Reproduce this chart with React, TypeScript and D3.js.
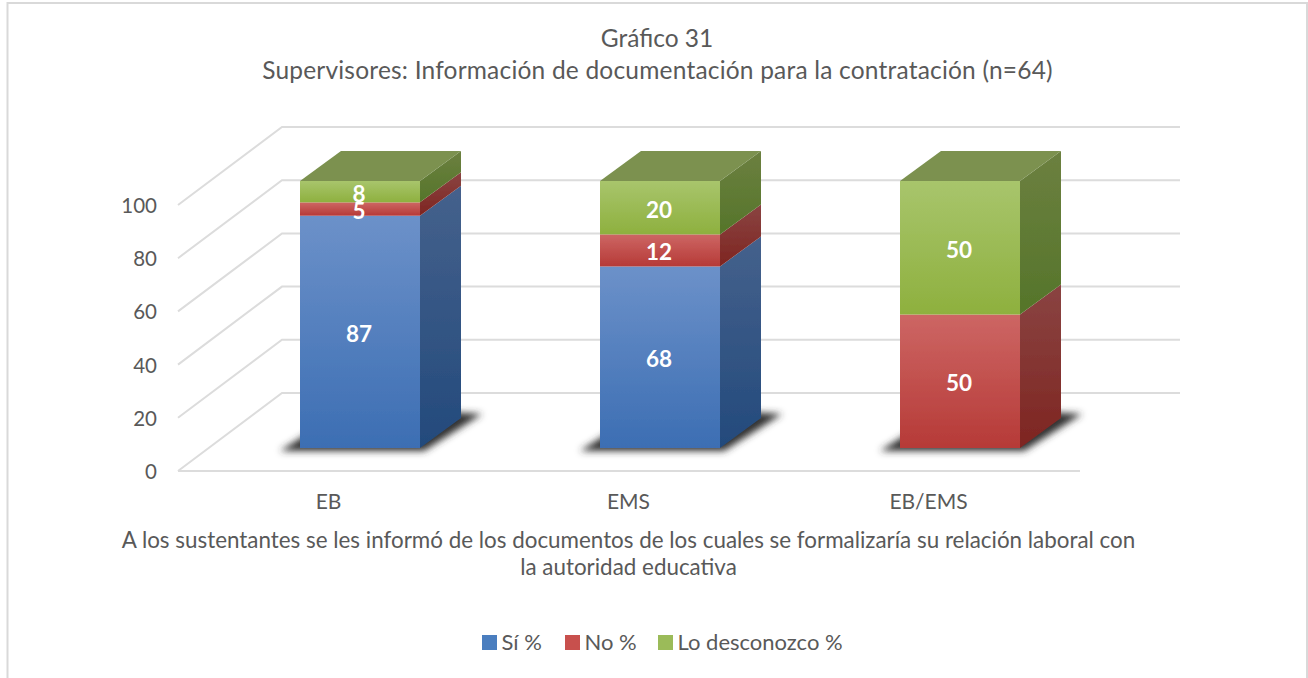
import React from "react";
import * as d3 from "d3";

const categories = ["EB", "EMS", "EB/EMS"];
const siValues = [87, 68, 0];
const noValues = [5, 12, 50];
const loValues = [8, 20, 50];
const seriesNames = ["Sí %", "No %", "Lo desconozco %"];
const seriesKeys = ["si", "no", "lo"];
const tickValues = [0, 20, 40, 60, 80, 100];
const titleLines = ["Gráfico 31", "Supervisores: Información de documentación para la contratación (n=64)"];
const noteLines = [
  "A los sustentantes se les informó de los documentos de los cuales se formalizaría su relación laboral con",
  "la autoridad educativa",
];

const W = 1308, H = 678;
const FONT = "Lato, 'Open Sans', sans-serif";
const TEXT = "#595959";
const palette: Record<string, { front: [string, string]; side: [string, string]; swatch: string }> = {
  si: { front: ["#6c91c9", "#3c6eb3"], side: ["#45618c", "#234a7c"], swatch: "#4a7ebf" },
  no: { front: ["#cd6664", "#b63a37"], side: ["#8a4442", "#7e2521"], swatch: "#c8504d" },
  lo: { front: ["#a8c56c", "#8eb03e"], side: ["#6c8040", "#55752a"], swatch: "#9bbb59" },
};

// 3D projection: bars stand on a plane between the front and back of the floor
const DEPTH_X = 41, DEPTH_Y = -30;
const BACK_X = 104, BACK_Y = -78;
const BAR_W = 120;

const x = d3.scalePoint<string>().domain(categories).range([360, 960]);
const yAxis = d3.scaleLinear().domain([0, 100]).range([471, 205]);
const yBar = d3.scaleLinear().domain([0, 100]).range([448, 181]);
const rows = categories.map((c, i) => ({ c, si: siValues[i], no: noValues[i], lo: loValues[i] }));
const stacked = d3.stack<any>().keys(seriesKeys)(rows);

const poly = (pts: [number, number][]) => pts.map((p) => p.join(",")).join(" ");

export default function App() {
  const gridLeft = 178, gridRight = 1080;
  return (
    <svg width={W} height={H} style={{ position: "absolute", left: 0, top: 0, background: "#fff" }} fontFamily={FONT}>
      <defs>
        {seriesKeys.map((k) => (
          <React.Fragment key={k}>
            <linearGradient id={`front-${k}`} x1="0" y1="0" x2="0" y2="1">
              <stop offset="0" stopColor={palette[k].front[0]} />
              <stop offset="1" stopColor={palette[k].front[1]} />
            </linearGradient>
            <linearGradient id={`side-${k}`} x1="0" y1="0" x2="0" y2="1">
              <stop offset="0" stopColor={palette[k].side[0]} />
              <stop offset="1" stopColor={palette[k].side[1]} />
            </linearGradient>
          </React.Fragment>
        ))}
        <filter id="shadow" x="-20%" y="-40%" width="140%" height="180%">
          <feGaussianBlur stdDeviation="3.5" />
        </filter>
        <filter id="soft" x="-5%" y="-5%" width="110%" height="110%">
          <feGaussianBlur stdDeviation="0.45" />
        </filter>
      </defs>

      <path d={`M7.5 ${H}V3H1307V${H}`} fill="none" stroke="#d9d9d9" strokeWidth={2} />

      <g fontSize={24.5} fill={TEXT} textAnchor="middle">
        <text x={657} y={47}>{titleLines[0]}</text>
        <text x={657.5} y={79} letterSpacing={0.2}>{titleLines[1]}</text>
      </g>

      <g stroke="#dcdcdc" strokeWidth={2} fill="none">
        {tickValues.map((t) => (
          <polyline
            key={t}
            points={poly([
              [gridLeft, yAxis(t)],
              [gridLeft + BACK_X, yAxis(t) + BACK_Y],
              [1180, yAxis(t) + BACK_Y],
            ])}
          />
        ))}
        <line x1={gridLeft} x2={gridRight} y1={yAxis(0)} y2={yAxis(0)} />
      </g>

      <g fontSize={20.5} fill={TEXT} textAnchor="end">
        {tickValues.map((t) => (
          <text key={t} x={157} y={yAxis(t) + 8}>{t}</text>
        ))}
      </g>

      {categories.map((c) => {
        const x0 = x(c)! - BAR_W / 2, x1 = x0 + BAR_W, b = yBar(0);
        return (
          <polygon
            key={c}
            filter="url(#shadow)"
            fill="#333333"
            points={poly([
              [x0 - 20, b + 3],
              [x1 + 4, b + 3],
              [x1 + 62, b - 34],
              [x1 + 30, b - 36],
              [x0 + 10, b - 16],
            ])}
          />
        );
      })}

      <g filter="url(#soft)">
        {stacked.map((s) => (
          <g key={s.key}>
            {s.map((d, i) => {
              if (d[1] === d[0]) return null;
              const c = categories[i];
              const x0 = x(c)! - BAR_W / 2, x1 = x0 + BAR_W;
              const yB = yBar(d[0]), yT = yBar(d[1]);
              return (
                <g key={c}>
                  <polygon
                    fill={`url(#side-${s.key})`}
                    points={poly([
                      [x1, yT],
                      [x1 + DEPTH_X, yT + DEPTH_Y],
                      [x1 + DEPTH_X, yB + DEPTH_Y],
                      [x1, yB],
                    ])}
                  />
                  <rect x={x0} y={yT} width={BAR_W} height={yB - yT} fill={`url(#front-${s.key})`} />
                  {d[1] === 100 && (
                    <polygon
                      fill="#7b914f"
                      points={poly([
                        [x0, yT],
                        [x1, yT],
                        [x1 + DEPTH_X, yT + DEPTH_Y],
                        [x0 + DEPTH_X, yT + DEPTH_Y],
                      ])}
                    />
                  )}
                </g>
              );
            })}
          </g>
        ))}
      </g>

      <g fontSize={22.5} fontWeight={700} fill="#fff" textAnchor="middle">
        {stacked.map((s) =>
          s.map((d, i) =>
            d[1] === d[0] ? null : (
              <text key={s.key + i} x={x(categories[i])! - 1} y={(yBar(d[0]) + yBar(d[1])) / 2 + 10}>
                {d[1] - d[0]}
              </text>
            )
          )
        )}
      </g>

      <g fontSize={21} fill={TEXT} textAnchor="middle">
        {categories.map((c) => (
          <text key={c} x={x(c)! - 31.5} y={509}>{c}</text>
        ))}
      </g>

      <g fontSize={22.4} fill={TEXT} textAnchor="middle">
        {noteLines.map((t, i) => (
          <text key={t} x={628.5} y={547.5 + i * 27.5}>{t}</text>
        ))}
      </g>

      <g fontSize={22} fill={TEXT}>
        {seriesKeys.map((k, i) => {
          const sx = [482, 565, 658][i];
          return (
            <g key={k}>
              <rect x={sx} y={635} width={15} height={15} fill={palette[k].swatch} />
              <text x={sx + 19.5} y={649.5}>{seriesNames[i]}</text>
            </g>
          );
        })}
      </g>
    </svg>
  );
}
